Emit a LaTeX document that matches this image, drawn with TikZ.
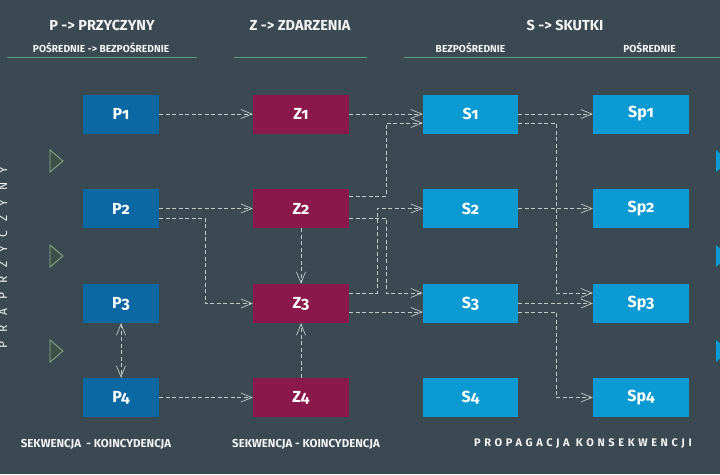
\documentclass[tikz,border=0pt]{standalone}
\usepackage{fontspec}
\setmainfont{Fira Sans}[Numbers=OldStyle]
\usetikzlibrary{arrows.meta}
\definecolor{bg}{HTML}{3B4953}
\definecolor{pcol}{HTML}{0B68A2}
\definecolor{zcol}{HTML}{8A184B}
\definecolor{scol}{HTML}{0B9AD1}
\definecolor{linecol}{HTML}{C3CACA}
\definecolor{hlcol}{HTML}{5E9A84}
\definecolor{trigreen}{HTML}{8DB08A}
\definecolor{trifill}{HTML}{3F5049}
\definecolor{txt}{HTML}{F2F4F4}
\begin{document}
\begin{tikzpicture}[x=1pt,y=-1pt,
  box/.style={minimum height=39pt, inner sep=0pt, text=white,
    font=\fontsize{16}{16}\selectfont\bfseries},
  pbox/.style={box, fill=pcol, minimum width=76pt},
  zbox/.style={box, fill=zcol, minimum width=96pt},
  sbox/.style={box, fill=scol, minimum width=95pt},
  spbox/.style={box, fill=scol, minimum width=96pt},
  conn/.style={draw=linecol, line width=0.7pt, dash pattern=on 4pt off 2.5pt,
    -{Straight Barb[length=11pt,width=9pt]}},
  hdr/.style={text=txt, inner sep=0pt, font=\fontsize{14.5}{15}\selectfont\bfseries},
  subhdr/.style={text=txt, inner sep=0pt, font=\fontsize{10.2}{11}\selectfont\bfseries},
  foot/.style={text=txt, inner sep=0pt, font=\fontsize{11.5}{12}\selectfont\bfseries},
  hline/.style={draw=hlcol, line width=1pt},
  ltri/.style={draw=trigreen, fill=trifill, line width=0.8pt},
  rtri/.style={fill=scol}
]
\fill[bg] (0,0) rectangle (720,474);
\useasboundingbox (0,0) rectangle (720,474);
\clip (0,0) rectangle (720,474);

% headers
\node[hdr] (h1) at (102,25) {P -> PRZYCZYNY};
\node[subhdr] (s1) at (101,47.5) {POŚREDNIE -> BEZPOŚREDNIE};
\node[hdr] (h2) at (300,25) {Z -> ZDARZENIA};
\node[hdr] (h3) at (565,25) {S -> SKUTKI};
\node[subhdr] (s2) at (470.5,47.5) {BEZPOŚREDNIE};
\node[subhdr] (s3) at (649.5,47.5) {POŚREDNIE};
\draw[hline] (7,57) -- (197,57);
\draw[hline] (234,57) -- (367,57);
\draw[hline] (404,57) -- (720,57);

% side decorations
\node[text=txt, inner sep=0pt, rotate=90, anchor=base,
  font=\fontsize{12}{12}\selectfont\addfontfeature{LetterSpace=75}]
  (side) at (7,257.5) {PRAPRZYCZYNY};
\draw[ltri] (50,150) -- (50,172) -- (63,161) -- cycle;
\draw[ltri] (50,245) -- (50,267) -- (63,256) -- cycle;
\draw[ltri] (50,340) -- (50,362) -- (63,351) -- cycle;
\fill[rtri] (716,150) -- (716,172) -- (729,161) -- cycle;
\fill[rtri] (716,245) -- (716,267) -- (729,256) -- cycle;
\fill[rtri] (716,340) -- (716,362) -- (729,351) -- cycle;

% nodes
\node[pbox] (P1) at (121,114) {P1};
\node[pbox] (P2) at (121,208.5) {P2};
\node[pbox] (P3) at (121,303.5) {P3};
\node[pbox] (P4) at (121,397.5) {P4};
\node[zbox] (Z1) at (301,114) {Z1};
\node[zbox] (Z2) at (301,208.5) {Z2};
\node[zbox] (Z3) at (301,303.5) {Z3};
\node[zbox] (Z4) at (301,397.5) {Z4};
\node[sbox] (S1) at (470.5,114) {S1};
\node[sbox] (S2) at (470.5,208.5) {S2};
\node[sbox] (S3) at (470.5,303.5) {S3};
\node[sbox] (S4) at (470.5,397.5) {S4};
\node[spbox] (Sp1) at (641,114) {Sp1};
\node[spbox] (Sp2) at (641,208.5) {Sp2};
\node[spbox] (Sp3) at (641,303.5) {Sp3};
\node[spbox] (Sp4) at (641,397.5) {Sp4};

% connectors
\draw[conn] (P1.east) -- (Z1.west);
\draw[conn] (P2.east) -- (Z2.west);
\draw[conn] ([shift={(0,9.5)}]P2.east) -| (205,303.5) -- (Z3.west);
\draw[conn] (P4.east) -- (Z4.west);
\draw[conn, {Straight Barb[length=11pt,width=9pt]}-{Straight Barb[length=11pt,width=9pt]}] (P3.south) -- (P4.north);
\draw[conn] (Z2.south) -- (Z3.north);
\draw[conn] (Z4.north) -- (Z3.south);
\draw[conn] (Z1.east) -- (S1.west);
\draw[conn] ([shift={(0,-12.5)}]Z2.east) -| (386,123) -- ([shift={(0,9)}]S1.west);
\draw[conn] ([shift={(0,9.5)}]Z2.east) -| (386,293) -- ([shift={(0,-10.5)}]S3.west);
\draw[conn] ([shift={(0,-10.5)}]Z3.east) -| (377,208.5) -- (S2.west);
\draw[conn] ([shift={(0,8.5)}]Z3.east) -- ([shift={(0,8.5)}]S3.west);
\draw[conn] (S1.east) -- (Sp1.west);
\draw[conn] ([shift={(0,9)}]S1.east) -| (556,293) -- ([shift={(0,-10.5)}]Sp3.west);
\draw[conn] (S2.east) -- (Sp2.west);
\draw[conn] (S3.east) -- (Sp3.west);
\draw[conn] ([shift={(0,8.5)}]S3.east) -| (556,397.5) -- (Sp4.west);

% footers
\node[foot] (f1) at (96,444) {SEKWENCJA\ \ - KOINCYDENCJA};
\node[foot] (f2) at (306,444) {SEKWENCJA - KOINCYDENCJA};
\node[foot, font=\fontsize{11}{12}\selectfont\bfseries\addfontfeature{LetterSpace=33}] (f3) at (583,444) {PROPAGACJA KONSEKWENCJI};
\end{tikzpicture}
\end{document}
